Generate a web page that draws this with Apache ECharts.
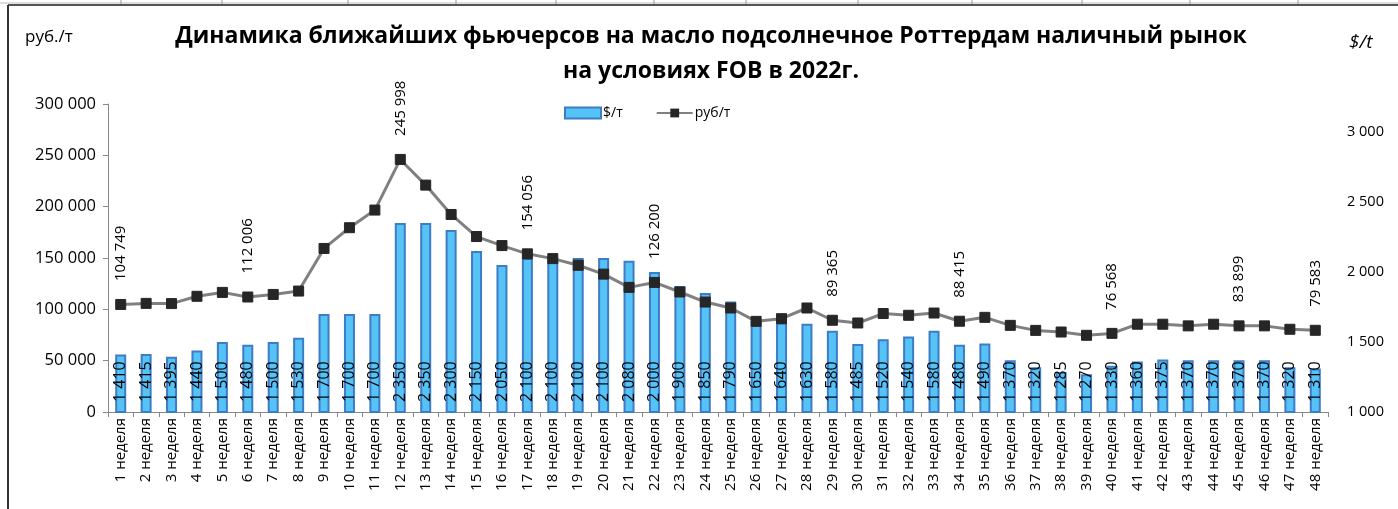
<!DOCTYPE html>
<html><head><meta charset="utf-8">
<script src="https://cdn.jsdelivr.net/npm/echarts/dist/echarts.min.js"></script>
<style>html,body{margin:0;padding:0;background:#fff}#c{width:1398px;height:509px}</style>
</head><body><div id="c"></div>
<script>
const weeks = ["1 неделя","2 неделя","3 неделя","4 неделя","5 неделя","6 неделя","7 неделя","8 неделя","9 неделя","10 неделя",
"11 неделя","12 неделя","13 неделя","14 неделя","15 неделя","16 неделя","17 неделя","18 неделя","19 неделя","20 неделя",
"21 неделя","22 неделя","23 неделя","24 неделя","25 неделя","26 неделя","27 неделя","28 неделя","29 неделя","30 неделя",
"31 неделя","32 неделя","33 неделя","34 неделя","35 неделя","36 неделя","37 неделя","38 неделя","39 неделя","40 неделя",
"41 неделя","42 неделя","43 неделя","44 неделя","45 неделя","46 неделя","47 неделя","48 неделя"];
const usdPerTon = [1410,1415,1395,1440,1500,1480,1500,1530,1700,1700,
1700,2350,2350,2300,2150,2050,2100,2100,2100,2100,
2080,2000,1900,1850,1790,1650,1640,1630,1580,1485,
1520,1540,1580,1480,1490,1370,1320,1285,1270,1330,
1360,1375,1370,1370,1370,1370,1320,1310];
const rubPerTon = [104749,105800,105600,112700,116500,112006,114500,117800,159300,179500,
196700,245998,221000,192400,170900,162100,154056,149400,142900,134300,
121400,126200,116900,107100,101300,88300,90900,101300,89365,86700,
95900,94200,96400,88415,92200,84400,79500,77900,74700,76568,
85500,85500,83900,85500,83899,83900,80600,79583];
const labeledWeeks = [1,6,12,17,22,29,34,40,45,48];
const leftTicks = [0,50000,100000,150000,200000,250000,300000];
const rightTicks = [1000,1500,2000,2500,3000];

const FONT = '"Open Sans", "Liberation Sans", sans-serif';
const fmt = v => String(v).replace(/\B(?=(\d{3})+(?!\d))/g, ' ');

const lineData = rubPerTon.map((v, i) => ({
  value: v,
  label: { show: labeledWeeks.indexOf(i + 1) >= 0 }
}));

const cellLines = [121, 222, 348, 456, 556, 654, 746, 858, 972, 1082, 1190, 1298].map(x => ({
  type: 'line', shape: { x1: x, y1: 0, x2: x, y2: 4 }, style: { stroke: '#999', lineWidth: 1 }
}));

const chart = echarts.init(document.getElementById('c'), null, {renderer: 'canvas'});
chart.setOption({
  animation: false,
  backgroundColor: '#fff',
  textStyle: { fontFamily: FONT },
  title: {
    text: 'Динамика ближайших фьючерсов на масло подсолнечное Роттердам наличный рынок\nна условиях FOB в 2022г.',
    left: 706, top: 14, textAlign: 'center',
    textStyle: { fontFamily: FONT, fontWeight: 'bold', fontSize: 23, lineHeight: 35, color: '#000' }
  },
  legend: {
    left: 559, top: 101,
    itemWidth: 36, itemHeight: 11, itemGap: 33,
    textStyle: { fontFamily: FONT, fontSize: 14, color: '#000', padding: [0, 0, 0, -3] },
    data: [{ name: '$/т', icon: 'rect' }, { name: 'руб/т' }]
  },
  graphic: [
    { type: 'text', left: 25, top: 29, style: { text: 'руб./т', font: '17px ' + FONT, fill: '#000' } },
    { type: 'text', left: 1349, top: 33, style: { text: '$/t', font: 'italic 19px ' + FONT, fill: '#000' } },
    { type: 'line', shape: { x1: 8, y1: 5, x2: 1398, y2: 5 }, style: { stroke: '#555', lineWidth: 2 } },
    { type: 'line', shape: { x1: 8, y1: 5, x2: 8, y2: 509 }, style: { stroke: '#333', lineWidth: 2 } },
    { type: 'line', shape: { x1: 0, y1: 3, x2: 1398, y2: 3 }, style: { stroke: '#bbb', lineWidth: 1 } }
  ].concat(cellLines),
  grid: { left: 108, right: 70, top: 104, bottom: 97, containLabel: false },
  xAxis: {
    type: 'category', data: weeks, boundaryGap: true,
    axisLine: { lineStyle: { color: '#888', width: 1 } },
    axisTick: { show: true, length: 5, alignWithLabel: false, lineStyle: { color: '#888' } },
    axisLabel: { rotate: 90, interval: 0, fontFamily: FONT, fontSize: 15, color: '#000', margin: 6 }
  },
  yAxis: [
    {
      type: 'value', min: 0, max: 300000, interval: 50000, position: 'left',
      splitLine: { show: false },
      axisLine: { show: true, lineStyle: { color: '#888' } },
      axisTick: { show: true, length: 5, lineStyle: { color: '#888' } },
      axisLabel: { fontFamily: FONT, fontSize: 16.5, color: '#000', margin: 12,
        formatter: v => leftTicks.indexOf(v) >= 0 ? fmt(v) : '' }
    },
    {
      type: 'value', min: 1000, max: 3200, interval: 500, position: 'right',
      splitLine: { show: false },
      axisLine: { show: false }, axisTick: { show: false },
      axisLabel: { fontFamily: FONT, fontSize: 14.5, color: '#000', margin: 19, showMaxLabel: false,
        formatter: v => rightTicks.indexOf(v) >= 0 ? fmt(v) : '' }
    }
  ],
  series: [
    {
      name: '$/т', type: 'bar', yAxisIndex: 1, data: usdPerTon,
      barWidth: 11,
      itemStyle: { color: '#55C3F5', borderColor: '#3E7CC6', borderWidth: 2 },
      label: {
        show: true, position: 'insideBottom', rotate: 90, align: 'left', verticalAlign: 'middle',
        distance: 11, fontFamily: FONT, fontSize: 16, color: '#000', formatter: p => fmt(p.value)
      },
      z: 2
    },
    {
      name: 'руб/т', type: 'line', yAxisIndex: 0, data: lineData,
      symbol: 'rect', symbolSize: 10,
      lineStyle: { color: '#808080', width: 3 },
      itemStyle: { color: '#262626', borderColor: '#262626' },
      label: {
        position: 'top', rotate: 90, align: 'left', verticalAlign: 'middle', distance: 18,
        fontFamily: FONT, fontSize: 15, color: '#000', formatter: p => fmt(p.value)
      },
      z: 3
    }
  ]
});
</script></body></html>
